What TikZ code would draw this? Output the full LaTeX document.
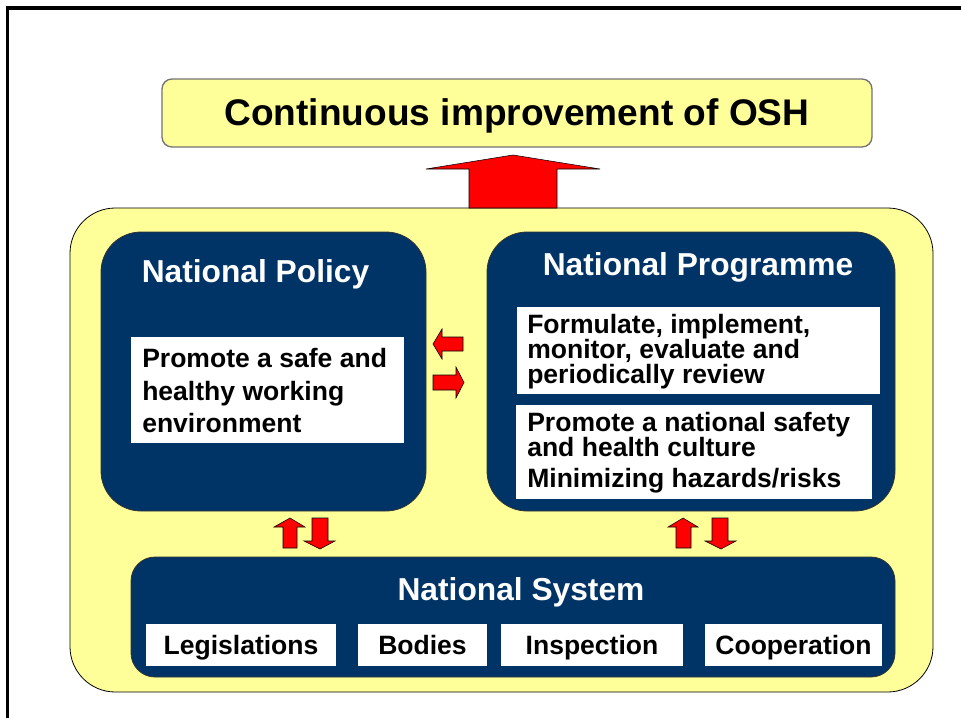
\documentclass[tikz,border=0pt]{standalone}
\usepackage{fontspec}
\setmainfont{Liberation Sans}
\usetikzlibrary{fit}
\definecolor{oshyellow}{HTML}{FFFF99}
\definecolor{oshblue}{HTML}{003366}
\definecolor{oshred}{HTML}{FF0000}
\begin{document}
\begin{tikzpicture}[x=0.75pt,y=-0.75pt,
  yellowbox/.style={draw=black, line width=0.6pt, fill=oshyellow, inner sep=0pt},
  titlebox/.style={draw=gray!90!black, line width=1pt, fill=oshyellow, inner sep=0pt, rounded corners=7.5pt},
  bluebox/.style={draw=black!80, line width=0.6pt, fill=oshblue, inner sep=0pt},
  whitebox/.style={fill=white, inner sep=0pt},
  redarrow/.style={fill=oshred, draw=black, line width=0.4pt, line join=miter},
  bodytxt/.style={font=\bfseries\fontsize{19.9}{24}\selectfont, inner sep=0pt, text=black},
  headtxt/.style={font=\bfseries\fontsize{23.8}{28}\selectfont, inner sep=0pt, text=white},
  bigtxt/.style={font=\bfseries\fontsize{27.8}{33}\selectfont, inner sep=0pt, text=black}
]
\useasboundingbox (0,0) rectangle (961,718);
% frame
\draw[line width=2.3pt, line join=miter] (7.5,718) -- (7.5,8) -- (961,8);

% title
\node[titlebox, fit={(162,79)(872,147)}] (title) {};
\node[bigtxt, anchor=base] (titletxt) at (517,125) {Continuous improvement of OSH};

% outer yellow box
\node[yellowbox, rounded corners=34pt, fit={(70,208)(933,692)}] (outer) {};

% big up arrow
\draw[redarrow] (469,208) -- (469,169) -- (426,169) -- (513,155) -- (600,169) -- (557,169) -- (557,208) -- cycle;

% National Policy
\node[bluebox, rounded corners=30pt, fit={(101,232)(426,511)}] (policy) {};
\node[headtxt, anchor=base] (policyhead) at (255.5,282) {National Policy};
\node[whitebox, fit={(131,337)(404,443)}] (policywb) {};
\node[bodytxt, anchor=base west] (pl1) at (142,367) {Promote a safe and};
\node[bodytxt, anchor=base west] (pl2) at (142,400) {healthy working};
\node[bodytxt, anchor=base west] (pl3) at (142,432) {environment};

% National Programme
\node[bluebox, rounded corners=30pt, fit={(487,232)(895,511)}] (prog) {};
\node[headtxt, anchor=base] (proghead) at (698,275) {National Programme};
\node[whitebox, fit={(517,307)(880,394)}] (progwb1) {};
\node[bodytxt, anchor=base west] (ql1) at (527,333) {Formulate, implement,};
\node[bodytxt, anchor=base west] (ql2) at (527,358) {monitor, evaluate and};
\node[bodytxt, anchor=base west] (ql3) at (527,383) {periodically review};
\node[whitebox, fit={(516,405)(872,499)}] (progwb2) {};
\node[bodytxt, anchor=base west] (rl1) at (527,431) {Promote a national safety};
\node[bodytxt, anchor=base west] (rl2) at (527,456) {and health culture};
\node[bodytxt, anchor=base west] (rl3) at (527,487) {Minimizing hazards/risks};

% left / right arrows
\draw[redarrow] (433,344) -- (442,329) -- (442,337) -- (463,337) -- (463,351) -- (442,351) -- (442,359) -- cycle;
\draw[redarrow] (464,382.5) -- (456,367) -- (456,375) -- (433,375) -- (433,390) -- (456,390) -- (456,398) -- cycle;

% up / down arrows
\draw[redarrow] (290,518) -- (305,527) -- (297,527) -- (297,548) -- (283,548) -- (283,527) -- (274,527) -- cycle;
\draw[redarrow] (320,549) -- (335,541) -- (328,541) -- (328,518) -- (312,518) -- (312,541) -- (304,541) -- cycle;
\draw[redarrow] (683,518) -- (698,527) -- (691,527) -- (691,548) -- (676,548) -- (676,527) -- (668,527) -- cycle;
\draw[redarrow] (721,549) -- (736,541) -- (728,541) -- (728,518) -- (712,518) -- (712,541) -- (705,541) -- cycle;

% National System
\node[bluebox, rounded corners=18pt, fit={(131,557)(895,677)}] (system) {};
\node[headtxt, anchor=base] (systemhead) at (521,600) {National System};
\node[whitebox, fit={(146,624)(336,666)}] (legis) {};
\node[bodytxt, anchor=base] (legistxt) at (241,654) {Legislations};
\node[whitebox, fit={(358,624)(487,666)}] (bodies) {};
\node[bodytxt, anchor=base] (bodiestxt) at (422.5,654) {Bodies};
\node[whitebox, fit={(501,624)(683,666)}] (insp) {};
\node[bodytxt, anchor=base] (insptxt) at (592,654) {Inspection};
\node[whitebox, fit={(705,624)(882,666)}] (coop) {};
\node[bodytxt, anchor=base] (cooptxt) at (793.5,654) {Cooperation};
\end{tikzpicture}
\end{document}
